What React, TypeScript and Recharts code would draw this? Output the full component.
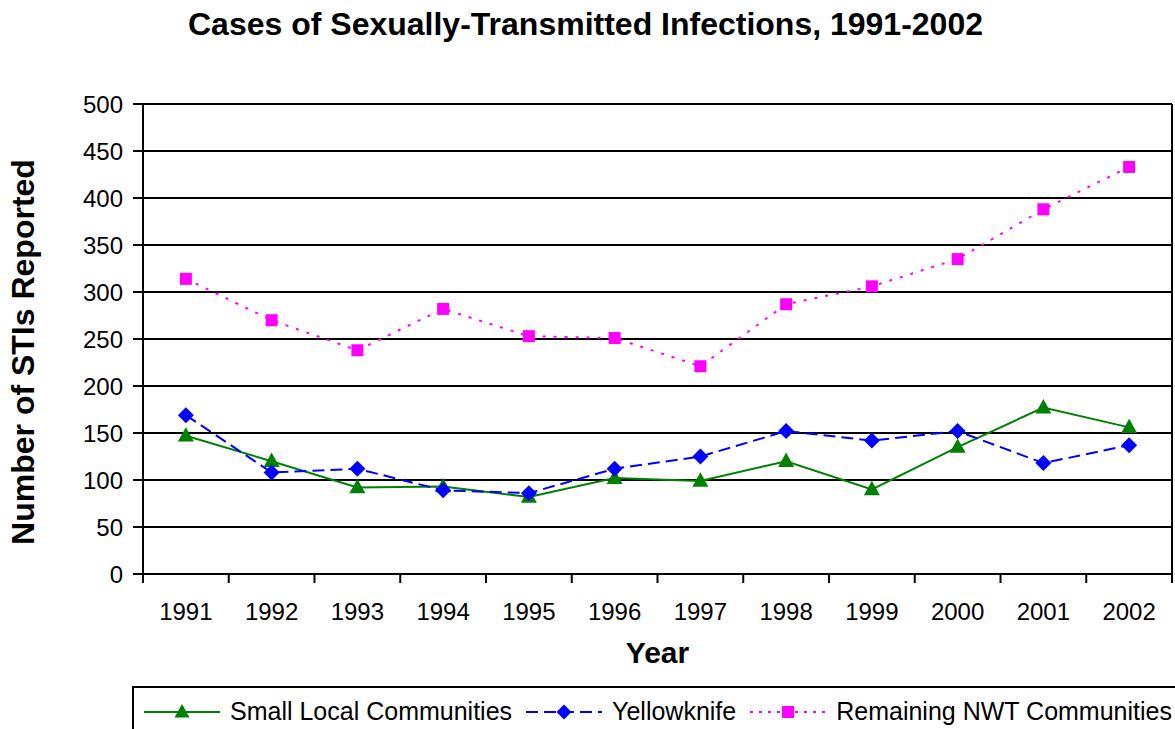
import React from 'react';
import { LineChart, Line, XAxis, YAxis, CartesianGrid } from 'recharts';

const years = ['1991', '1992', '1993', '1994', '1995', '1996', '1997', '1998', '1999', '2000', '2001', '2002'];
const smallLocal = [147, 120, 92, 93, 82, 102, 99, 120, 90, 135, 177, 156];
const yellowknife = [169, 108, 112, 89, 86, 112, 125, 152, 142, 152, 118, 137];
const remainingNwt = [314, 270, 238, 282, 253, 251, 221, 287, 306, 335, 388, 433];
const yTicks = [0, 50, 100, 150, 200, 250, 300, 350, 400, 450, 500];

const data = years.map((year, i) => ({
  year,
  small: smallLocal[i],
  yk: yellowknife[i],
  rest: remainingNwt[i],
}));

const FONT = 'Arial, "Liberation Sans", sans-serif';
const W = 1175;
const H = 729;
const PLOT_LEFT = 143;
const PLOT_RIGHT = 1172;
const BAND = (PLOT_RIGHT - PLOT_LEFT) / years.length;

const GREEN = '#008000';
const BLUE = '#0000FF';
const PINK = '#FF00FF';

function YearTick(props: any) {
  const { x, y, payload, index } = props;
  const last = index === years.length - 1;
  return (
    <g>
      <line x1={x - BAND / 2} x2={x - BAND / 2} y1={y} y2={y + 9} stroke="#000" strokeWidth={2} />
      {last && <line x1={x + BAND / 2} x2={x + BAND / 2} y1={y} y2={y + 9} stroke="#000" strokeWidth={2} />}
      <text x={x} y={y + 46} textAnchor="middle" fontSize={24} fontFamily={FONT} fill="#000">
        {payload.value}
      </text>
    </g>
  );
}

const Triangle = ({ cx, cy, size = 15 }: any) => {
  if (cx == null || cy == null) return null;
  const h = size * 0.9;
  return (
    <path
      d={`M${cx},${cy - h * 0.6} L${cx + size / 2},${cy + h * 0.4} L${cx - size / 2},${cy + h * 0.4} Z`}
      fill={GREEN}
    />
  );
};

const Diamond = ({ cx, cy, size = 15 }: any) => {
  if (cx == null || cy == null) return null;
  const r = size / 2;
  return <path d={`M${cx},${cy - r} L${cx + r},${cy} L${cx},${cy + r} L${cx - r},${cy} Z`} fill={BLUE} />;
};

const Square = ({ cx, cy, size = 12 }: any) => {
  if (cx == null || cy == null) return null;
  return <rect x={cx - size / 2} y={cy - size / 2} width={size} height={size} fill={PINK} />;
};

function LegendItem({ color, dash, marker, label, lineWidth }: any) {
  return (
    <div style={{ display: 'flex', alignItems: 'center', marginRight: 12, whiteSpace: 'nowrap' }}>
      <svg width={80} height={20} style={{ marginRight: 8 }}>
        <line x1={2} x2={78} y1={10} y2={10} stroke={color} strokeWidth={lineWidth} strokeDasharray={dash} />
        {marker === 'triangle' && <Triangle cx={40} cy={10} size={15} />}
        {marker === 'diamond' && <Diamond cx={40} cy={10} size={15} />}
        {marker === 'square' && <Square cx={40} cy={10} size={12} />}
      </svg>
      <span>{label}</span>
    </div>
  );
}

export default function App() {
  return (
    <div style={{ position: 'relative', width: W, height: H, background: '#fff', overflow: 'hidden', fontFamily: FONT }}>
      <style>{'html, body { margin: 0; padding: 0; overflow: hidden; }'}</style>
      <div
        style={{
          position: 'absolute',
          left: 0,
          width: 1171,
          top: 4,
          textAlign: 'center',
          fontSize: 32,
          fontWeight: 'bold',
          lineHeight: '40px',
        }}
      >
        Cases of Sexually-Transmitted Infections, 1991-2002
      </div>
      <div
        style={{
          position: 'absolute',
          left: 23,
          top: 352,
          transform: 'translate(-50%, -50%) rotate(-90deg)',
          whiteSpace: 'nowrap',
          fontSize: 32,
          fontWeight: 'bold',
        }}
      >
        Number of STIs Reported
      </div>
      <div style={{ position: 'absolute', left: 0, top: 0 }}>
        <LineChart width={W} height={H} data={data} margin={{ top: 104, right: 2, left: 0, bottom: 0 }}>
          <CartesianGrid yAxisId="left" vertical={false} stroke="#000" strokeWidth={2} />
          <XAxis
            dataKey="year"
            scale="band"
            height={155}
            tickSize={0}
            tickMargin={0}
            tickLine={false}
            axisLine={{ stroke: '#000', strokeWidth: 2 }}
            tick={<YearTick />}
            interval={0}
            label={{ value: 'Year', position: 'insideTop', offset: 68, fontSize: 30, fontWeight: 'bold', fill: '#000', fontFamily: FONT }}
          />
          <YAxis
            yAxisId="left"
            width={PLOT_LEFT}
            domain={[0, 500]}
            ticks={yTicks}
            tickSize={10}
            tickMargin={10}
            tickLine={{ stroke: '#000', strokeWidth: 2 }}
            axisLine={{ stroke: '#000', strokeWidth: 2 }}
            tick={{ fill: '#000', fontSize: 24, fontFamily: FONT }}
          />
          <YAxis
            yAxisId="right"
            orientation="right"
            width={1}
            domain={[0, 500]}
            tick={false}
            tickLine={false}
            axisLine={{ stroke: '#000', strokeWidth: 2 }}
          />
          <Line
            yAxisId="left"
            dataKey="small"
            stroke={GREEN}
            strokeWidth={2}
            dot={(p: any) => <Triangle key={`t${p.index}`} cx={p.cx} cy={p.cy} size={16} />}
            isAnimationActive={false}
          />
          <Line
            yAxisId="left"
            dataKey="yk"
            stroke={BLUE}
            strokeWidth={2}
            strokeDasharray="12 6"
            dot={(p: any) => <Diamond key={`d${p.index}`} cx={p.cx} cy={p.cy} size={16} />}
            isAnimationActive={false}
          />
          <Line
            yAxisId="left"
            dataKey="rest"
            stroke={PINK}
            strokeWidth={2}
            strokeDasharray="3 8"
            dot={(p: any) => <Square key={`s${p.index}`} cx={p.cx} cy={p.cy} size={12} />}
            isAnimationActive={false}
          />
        </LineChart>
      </div>
      <div
        style={{
          position: 'absolute',
          left: 132,
          top: 686,
          width: 1060,
          height: 60,
          border: '2px solid #000',
          boxSizing: 'border-box',
          display: 'flex',
          alignItems: 'flex-start',
          paddingTop: 9,
          paddingLeft: 8,
          fontSize: 25,
        }}
      >
        <LegendItem color={GREEN} lineWidth={2} marker="triangle" label="Small Local Communities" />
        <LegendItem color={BLUE} lineWidth={2} dash="12 6" marker="diamond" label="Yellowknife" />
        <LegendItem color={PINK} lineWidth={2} dash="3 6" marker="square" label="Remaining NWT Communities" />
      </div>
    </div>
  );
}
